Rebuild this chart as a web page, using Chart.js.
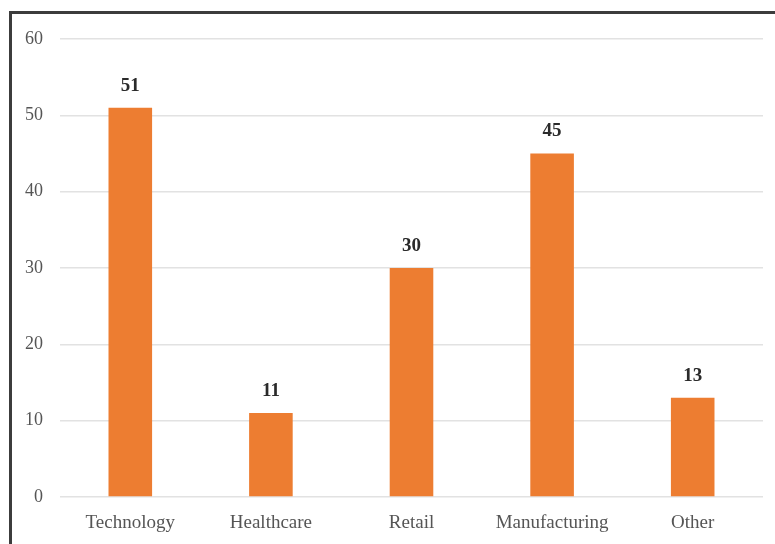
<!DOCTYPE html>
<html>
<head>
<meta charset="utf-8">
<script src="https://cdn.jsdelivr.net/npm/chart.js@4/dist/chart.umd.min.js"></script>
<style>
  html, body { margin: 0; padding: 0; background: #fff; }
  #wrap { position: relative; width: 775px; height: 544px; overflow: hidden; }
  #frame { position: absolute; left: 9px; top: 11px; width: 900px; height: 600px;
           border-top: 3px solid #3c3c3c; border-left: 3px solid #3c3c3c; }
  canvas { position: absolute; left: 0; top: 0; }
</style>
</head>
<body>
<div id="wrap">
  <div id="frame"></div>
  <canvas id="c" width="775" height="544"></canvas>
</div>
<script>
const categories = ["Technology", "Healthcare", "Retail", "Manufacturing", "Other"];
const values = [51, 11, 30, 45, 13];
const yTicks = [0, 10, 20, 30, 40, 50, 60];

const labelPlugin = {
  id: 'valueLabels',
  afterDatasetsDraw(chart) {
    const ctx = chart.ctx;
    const meta = chart.getDatasetMeta(0);
    ctx.save();
    ctx.font = 'bold 19px "Liberation Serif"';
    ctx.fillStyle = '#2a2a2a';
    ctx.textAlign = 'center';
    ctx.textBaseline = 'middle';
    meta.data.forEach((bar, i) => {
      ctx.fillText(String(values[i]), bar.x, bar.y - 22);
    });
    ctx.restore();
  }
};

new Chart(document.getElementById('c'), {
  type: 'bar',
  data: {
    labels: categories,
    datasets: [{
      data: values,
      backgroundColor: '#ED7D31',
      categoryPercentage: 1.0,
      barPercentage: 0.31
    }]
  },
  options: {
    responsive: false,
    animation: false,
    layout: { padding: { top: 39, right: 12, bottom: 0, left: 0 } },
    plugins: { legend: { display: false }, tooltip: { enabled: false } },
    scales: {
      x: {
        grid: { display: false, drawTicks: false },
        border: { display: false },
        ticks: { color: '#555', padding: 15, font: { family: 'Liberation Serif', size: 19 } },
        afterFit(s) { s.height = 47; }
      },
      y: {
        min: 0, max: 60,
        afterBuildTicks(s) { s.ticks = yTicks.map(v => ({ value: v })); },
        grid: { color: '#e2e2e2', lineWidth: 1.5, drawTicks: false },
        border: { display: false },
        ticks: { color: '#555', padding: 17, font: { family: 'Liberation Serif', size: 18 } },
        afterFit(s) { s.width = 60; }
      }
    }
  },
  plugins: [labelPlugin]
});
</script>
</body>
</html>
